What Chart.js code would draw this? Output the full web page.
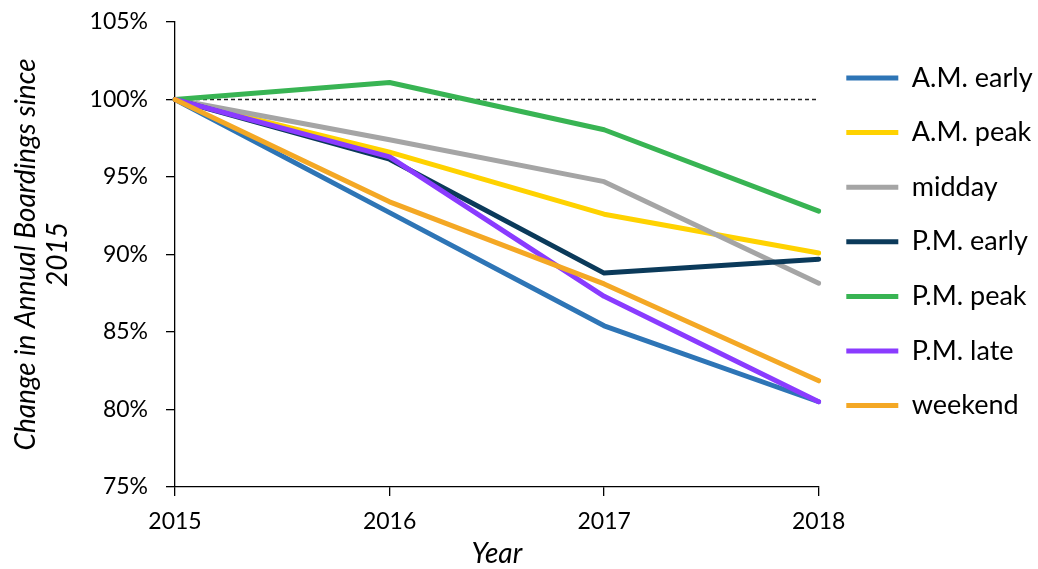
<!DOCTYPE html>
<html>
<head>
<meta charset="utf-8">
<script src="https://cdn.jsdelivr.net/npm/chart.js@4/dist/chart.umd.min.js"></script>
<style>
  html, body { margin: 0; padding: 0; background: #ffffff; }
  #wrap { width: 1038px; height: 569px; }
</style>
</head>
<body>
<div id="wrap"><canvas id="c" width="1038" height="569"></canvas></div>
<script>
const years = ['2015', '2016', '2017', '2018'];
const seriesNames = ['A.M. early', 'A.M. peak', 'midday', 'P.M. early', 'P.M. peak', 'P.M. late', 'weekend'];
const amEarly = [100, 92.7, 85.4, 80.5];
const amPeak  = [100, 96.6, 92.6, 90.1];
const midday  = [100, 97.4, 94.7, 88.15];
const pmEarly = [100, 96.15, 88.8, 89.7];
const pmPeak  = [100, 101.1, 98.05, 92.8];
const pmLate  = [100, 96.3, 87.3, 80.5];
const weekend = [100, 93.4, 88.1, 81.85];
const baseline = [100, 100, 100, 100];
const yTicks = { min: 75, max: 105, step: 5 };
const seriesColors = ['#2E75B6', '#FFD200', '#A5A5A5', '#0B3A5A', '#38B453', '#8A3BFF', '#F4A825'];

const seriesValues = [amEarly, amPeak, midday, pmEarly, pmPeak, pmLate, weekend];
const datasets = seriesValues.map((vals, i) => ({
  label: seriesNames[i],
  data: vals,
  borderColor: seriesColors[i],
  backgroundColor: seriesColors[i],
  borderWidth: 5,
  borderCapStyle: 'round',
  borderJoinStyle: 'round',
  pointRadius: 0,
  pointHoverRadius: 0,
  tension: 0,
  fill: false,
  order: seriesValues.length - i
}));
datasets.push({
  label: 'baseline',
  data: baseline,
  borderColor: '#222222',
  borderWidth: 1.3,
  borderDash: [4, 3],
  pointRadius: 0,
  fill: false,
  order: 20
});

const FONT = 'Lato, "Open Sans", sans-serif';

new Chart(document.getElementById('c'), {
  type: 'line',
  data: { labels: years, datasets },
  options: {
    responsive: false,
    animation: false,
    devicePixelRatio: 1,
    layout: { padding: { top: 22, right: -4.6, bottom: 1, left: 6 } },
    plugins: {
      tooltip: { enabled: false },
      legend: {
        position: 'right',
        align: 'start',
        title: { display: true, text: '', font: { size: 12.4, lineHeight: 1.2 }, padding: 0 },
        labels: {
          filter: (item) => item.text !== 'baseline',
          sort: (a, b) => a.datasetIndex - b.datasetIndex,
          usePointStyle: true,
          pointStyle: 'line',
          pointStyleWidth: 52,
          padding: 27.6,
          color: '#000000',
          font: { family: FONT, size: 27 }
        }
      }
    },
    scales: {
      x: {
        type: 'category',
        offset: false,
        grid: { display: true, drawOnChartArea: false, drawTicks: true, tickLength: 9, color: '#000000', lineWidth: 1.3 },
        border: { display: true, color: '#000000', width: 1.3 },
        ticks: { color: '#000000', font: { family: FONT, size: 23 }, padding: 12, maxRotation: 0 },
        title: { display: true, text: 'Year', color: '#000000', font: { family: FONT, size: 28, style: 'italic', lineHeight: 1 }, padding: { top: 0, bottom: 0 } },
        afterFit: (scale) => { scale.height = 81; }
      },
      y: {
        min: yTicks.min,
        max: yTicks.max,
        grid: { display: true, drawOnChartArea: false, drawTicks: true, tickLength: 9, color: '#000000', lineWidth: 1.3 },
        border: { display: true, color: '#000000', width: 1.3 },
        ticks: { stepSize: yTicks.step, color: '#000000', font: { family: FONT, size: 23 }, padding: 18, callback: (v) => v + '%' },
        title: { display: true, text: ['Change in Annual Boardings since', '2015'], color: '#000000', font: { family: FONT, size: 28, style: 'italic', lineHeight: 1.14 }, padding: { top: 4, bottom: 4 } },
        afterFit: (scale) => { scale.width = 169; scale.paddingTop = 0; scale.paddingBottom = 0; }
      }
    }
  }
});
</script>
</body>
</html>
